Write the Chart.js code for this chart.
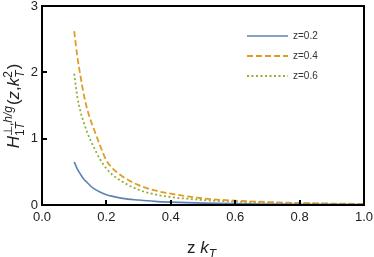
<!DOCTYPE html>
<html lang="en">
<head>
  <meta charset="UTF-8" />
  <title>H1T perp h/g vs z kT</title>
  <script src="https://cdn.jsdelivr.net/npm/chart.js"></script>
  <style>
    html, body { margin: 0; padding: 0; background: #fff; }
  </style>
</head>
<body>
  <canvas id="chart" width="374" height="257"></canvas>

  <script>
    // values
    const kT  = [0.10, 0.11, 0.12, 0.13, 0.14, 0.15, 0.16, 0.18, 0.20, 0.22, 0.25, 0.30, 0.35, 0.40, 0.50, 0.60, 0.70, 0.80, 0.90, 1.00];
    const z02 = [0.65, 0.54, 0.46, 0.39, 0.34, 0.29, 0.25, 0.195, 0.155, 0.13, 0.10, 0.075, 0.055, 0.043, 0.028, 0.020, 0.015, 0.011, 0.009, 0.007];
    const z04 = [2.62, 2.23, 1.93, 1.66, 1.45, 1.29, 1.16, 0.90, 0.67, 0.55, 0.43, 0.30, 0.22, 0.17, 0.10, 0.065, 0.045, 0.030, 0.022, 0.016];
    const z06 = [1.98, 1.62, 1.40, 1.24, 1.10, 0.98, 0.88, 0.69, 0.55, 0.45, 0.35, 0.23, 0.16, 0.12, 0.075, 0.050, 0.035, 0.025, 0.018, 0.013];
    const seriesLabels = ["z=0.2", "z=0.4", "z=0.6"];
    const xTicks = [0, 0.2, 0.4, 0.6, 0.8, 1.0];
    const yTicks = [0, 1, 2, 3];

    const FONT = "'Liberation Sans', Arial, sans-serif";

    const pts = ys => kT.map((x, i) => ({ x: x, y: ys[i] }));

    // draws a row of text pieces; {t} plain, {sup, sub} stacked scripts
    function drawMath(ctx, pieces, size, cx, baseY) {
      const small = Math.round(size * 0.68);
      const font = (s, it) => (it ? "italic " : "") + s + "px " + FONT;
      const runW = (runs, s) => runs.reduce((w, r) => {
        ctx.font = font(s, r[1]);
        return w + ctx.measureText(r[0]).width;
      }, 0);
      const widths = pieces.map(p => {
        if (p.t !== undefined) { ctx.font = font(size, p.it); return ctx.measureText(p.t).width; }
        return Math.max(runW(p.sup, small), runW(p.sub, small)) + 1;
      });
      let x = cx - widths.reduce((a, b) => a + b, 0) / 2;
      const drawRuns = (runs, x0, y) => {
        runs.forEach(r => {
          ctx.font = font(small, r[1]);
          ctx.fillText(r[0], x0, y);
          x0 += ctx.measureText(r[0]).width;
        });
      };
      pieces.forEach((p, i) => {
        if (p.t !== undefined) {
          ctx.font = font(size, p.it);
          ctx.fillText(p.t, x, baseY);
        } else {
          drawRuns(p.sup, x, baseY - size * 0.42);
          drawRuns(p.sub, x, baseY + size * 0.28);
        }
        x += widths[i];
      });
    }

    const labelsPlugin = {
      id: "mathLabels",
      afterDraw(chart) {
        const ctx = chart.ctx;
        ctx.save();
        // legend
        ctx.textBaseline = "middle";
        ctx.textAlign = "left";
        chart.data.datasets.forEach((ds, i) => {
          const y = 36 + i * 20;
          ctx.strokeStyle = ds.borderColor;
          ctx.lineWidth = ds.borderWidth;
          ctx.setLineDash(ds.borderDash || []);
          ctx.beginPath();
          ctx.moveTo(247, y);
          ctx.lineTo(288, y);
          ctx.stroke();
          ctx.setLineDash([]);
          ctx.fillStyle = "#333";
          ctx.font = "10px " + FONT;
          ctx.fillText(ds.label, 293, y);
        });

        // axis titles
        ctx.fillStyle = "#222";
        ctx.textBaseline = "alphabetic";
        drawMath(ctx, [
          { t: "z " }, { t: "k", it: true },
          { sup: [], sub: [["T", true]] }
        ], 17, 202, 253);

        ctx.translate(14, 106);
        ctx.rotate(-Math.PI / 2);
        drawMath(ctx, [
          { t: "H", it: true },
          { sup: [["\u22A5,", false], ["h/g", true]], sub: [["1", false], ["T", true]] },
          { t: "(" }, { t: "z", it: true }, { t: "," }, { t: "k", it: true },
          { sup: [["2", false]], sub: [["T", true]] },
          { t: ")" }
        ], 17, 0, 5);
        ctx.restore();
      }
    };

    const frameBorder = { display: true, color: "#000", width: 2, z: 1 };
    const inwardTicks = { display: true, drawOnChartArea: false, drawTicks: true, tickLength: -5, color: "#000", lineWidth: 2, z: 1 };
    const hidden = { display: false };

    new Chart(document.getElementById("chart"), {
      type: "line",
      data: {
        datasets: [
          { label: seriesLabels[0], data: pts(z02), borderColor: "#5E81B5", borderWidth: 1.6 },
          { label: seriesLabels[1], data: pts(z04), borderColor: "#E19C24", borderWidth: 1.8, borderDash: [6, 3] },
          { label: seriesLabels[2], data: pts(z06), borderColor: "#8FB032", borderWidth: 1.8, borderDash: [2, 2.5] }
        ]
      },
      options: {
        responsive: false,
        animation: false,
        devicePixelRatio: 1,
        layout: { padding: { top: 6, right: 10, left: 0, bottom: 0 } },
        elements: {
          point: { radius: 0 },
          line: { cubicInterpolationMode: "monotone", fill: false }
        },
        plugins: { legend: { display: false }, tooltip: { enabled: false } },
        scales: {
          x: {
            type: "linear", min: 0, max: 1,
            grid: inwardTicks, border: frameBorder,
            afterBuildTicks: s => { s.ticks = xTicks.map(v => ({ value: v })); },
            afterFit: s => { s.height = 52; s.paddingLeft = 0; s.paddingRight = 0; },
            ticks: { color: "#222", padding: 10, font: { family: FONT, size: 13 }, callback: v => v.toFixed(1) }
          },
          y: {
            min: 0, max: 3,
            grid: inwardTicks, border: frameBorder,
            afterBuildTicks: s => { s.ticks = yTicks.map(v => ({ value: v })); },
            afterFit: s => { s.width = 42; s.paddingTop = 0; s.paddingBottom = 0; },
            ticks: { color: "#222", padding: 9, font: { family: FONT, size: 13 }, callback: v => String(v) }
          },
          xTop: {
            type: "linear", position: "top", min: 0, max: 1,
            grid: hidden, border: frameBorder, ticks: hidden,
            afterFit: s => { s.height = 0; s.paddingLeft = 0; s.paddingRight = 0; }
          },
          yRight: {
            type: "linear", position: "right", min: 0, max: 3,
            grid: hidden, border: frameBorder, ticks: hidden,
            afterFit: s => { s.width = 0; s.paddingTop = 0; s.paddingBottom = 0; }
          }
        }
      },
      plugins: [labelsPlugin]
    });
  </script>
</body>
</html>
